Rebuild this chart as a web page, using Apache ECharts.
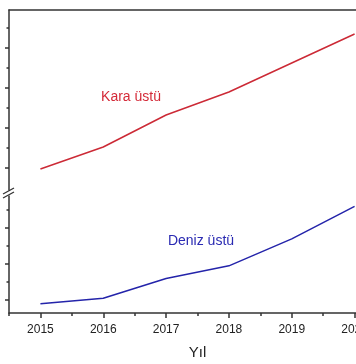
<!DOCTYPE html>
<html>
<head>
<meta charset="utf-8">
<script src="https://cdn.jsdelivr.net/npm/echarts@6/dist/echarts.min.js"></script>
<style>html,body{margin:0;padding:0;background:#fff;}#c{width:356px;height:364px;}</style>
</head>
<body>
<div id="c"></div>
<script>
// ---- data ----
const years = [2015, 2016, 2017, 2018, 2019, 2020];
const karaUstu = [0.39, 0.61, 0.93, 1.16, 1.45, 1.74];
const denizUstu = [-0.02, 0.01, 0.12, 0.19, 0.34, 0.52];
const xMinorTicks = [2014.5, 2015.5, 2016.5, 2017.5, 2018.5, 2019.5];
const topMajorTicks = [0.4, 0.8, 1.2, 1.6];
const topMinorTicks = [0.6, 1.0, 1.4, 1.8];
const bottomMajorTicks = [0.0, 0.2, 0.4];
const bottomMinorTicks = [0.1, 0.3, 0.5];
const seriesNames = ['Kara üstü', 'Deniz üstü'];

const axisColor = '#333333';
const font = 'Liberation Sans, Arial, sans-serif';
const chart = echarts.init(document.getElementById('c'));

function yAx(grid, min, max, ticks, len, showLine) {
  return {
    type: 'value', gridIndex: grid, min: min, max: max, position: 'left',
    axisLine: { show: showLine, onZero: false, lineStyle: { color: axisColor, width: 1.5 } },
    axisTick: { show: true, customValues: ticks, length: len, lineStyle: { color: axisColor, width: 1.5 } },
    axisLabel: { show: false },
    splitLine: { show: false }
  };
}

chart.setOption({
  animation: false,
  backgroundColor: '#fff',
  grid: [
    { left: 9, width: 377, top: 10, height: 180, outerBoundsMode: 'none', containLabel: false },
    { left: 9, width: 377, top: 196, height: 117, outerBoundsMode: 'none', containLabel: false }
  ],
  xAxis: [
    { type: 'value', gridIndex: 0, min: 2014.5, max: 2020.5, position: 'top',
      axisLine: { show: true, onZero: false, lineStyle: { color: axisColor, width: 1.5 } },
      axisTick: { show: false }, axisLabel: { show: false }, splitLine: { show: false } },
    { type: 'value', gridIndex: 1, min: 2014.5, max: 2020.5, position: 'bottom',
      axisLine: { show: true, onZero: false, lineStyle: { color: axisColor, width: 1.5 } },
      axisTick: { show: true, customValues: years, length: 5, lineStyle: { color: axisColor, width: 1.5 } },
      axisLabel: { show: true, customValues: years, formatter: v => String(v), color: '#222', fontSize: 12, fontFamily: font, margin: 11 },
      splitLine: { show: false },
      name: 'Yıl', nameLocation: 'middle', nameGap: 32,
      nameTextStyle: { color: '#222', fontSize: 15, fontFamily: font } },
    { type: 'value', gridIndex: 1, min: 2014.5, max: 2020.5, position: 'bottom',
      axisLine: { show: false, onZero: false },
      axisTick: { show: true, customValues: xMinorTicks, length: 3, lineStyle: { color: axisColor, width: 1.5 } },
      axisLabel: { show: false }, splitLine: { show: false } }
  ],
  yAxis: [
    yAx(0, 0.18, 1.98, topMajorTicks, 4, true),
    yAx(0, 0.18, 1.98, topMinorTicks, 2.5, false),
    yAx(1, -0.072, 0.578, bottomMajorTicks, 4, true),
    yAx(1, -0.072, 0.578, bottomMinorTicks, 2.5, false)
  ],
  series: [
    { name: seriesNames[0], type: 'line', xAxisIndex: 0, yAxisIndex: 0, symbol: 'none',
      lineStyle: { color: '#cc2a36', width: 1.5 },
      data: years.map((y, i) => [y, karaUstu[i]]) },
    { name: seriesNames[1], type: 'line', xAxisIndex: 1, yAxisIndex: 2, symbol: 'none',
      lineStyle: { color: '#2424aa', width: 1.5 },
      data: years.map((y, i) => [y, denizUstu[i]]) }
  ],
  graphic: [
    { type: 'line', shape: { x1: 3, y1: 194, x2: 14, y2: 188 }, style: { stroke: axisColor, lineWidth: 1.3 } },
    { type: 'line', shape: { x1: 3, y1: 198, x2: 14, y2: 192 }, style: { stroke: axisColor, lineWidth: 1.3 } },
    { type: 'text', x: 131, y: 97, style: { text: seriesNames[0], fill: '#d42a38', font: '14px ' + font, align: 'center', verticalAlign: 'middle' } },
    { type: 'text', x: 201, y: 241, style: { text: seriesNames[1], fill: '#2a2ab2', font: '14px ' + font, align: 'center', verticalAlign: 'middle' } }
  ]
});
</script>
</body>
</html>
